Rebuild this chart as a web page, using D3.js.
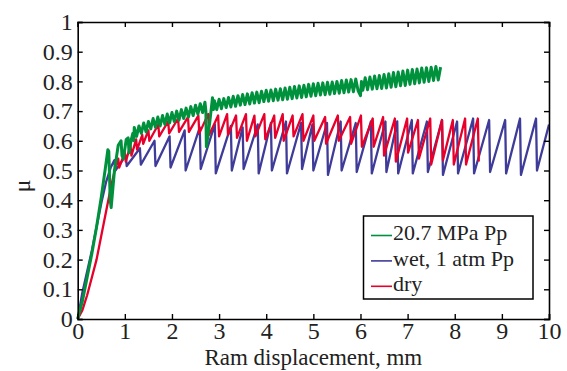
<!DOCTYPE html>
<html><head><meta charset="utf-8">
<script src="https://cdn.jsdelivr.net/npm/d3@7"></script>
<style>
body{margin:0;background:#fff;}
svg{display:block;}
text{font-family:"Liberation Serif","Times New Roman",serif;fill:#222;}
</style></head><body>
<svg id="c" width="567" height="371"></svg>
<script>
// ---- data ----
const seriesNames = ["20.7 MPa Pp", "wet, 1 atm Pp", "dry"];
const xTicks = [0,1,2,3,4,5,6,7,8,9,10];
const yTicks = [0,0.1,0.2,0.3,0.4,0.5,0.6,0.7,0.8,0.9,1];
const yTickLabels = ["0","0.1","0.2","0.3","0.4","0.5","0.6","0.7","0.8","0.9","1"];

// wet, 1 atm Pp : initial loading then stick-slip (peak, trough)
const wetStart = [[0,0],[0.1,0.09],[0.2,0.16],[0.3,0.23],[0.4,0.31],[0.5,0.39],[0.6,0.46],[0.7,0.51]];
const wetPeakX = [0.78,1.02,1.32,1.63,1.95,2.27,2.59,2.91,3.25,3.50,3.82,4.10,4.42,4.74,4.98,5.29,5.58,5.90,6.22,6.53,6.78,7.09,7.41,7.73,8.05,8.39,8.73,9.07,9.385,9.725];
const wetPeakY = [0.535,0.55,0.575,0.60,0.615,0.635,0.645,0.655,0.65,0.645,0.655,0.66,0.665,0.66,0.655,0.66,0.665,0.66,0.665,0.665,0.665,0.67,0.665,0.67,0.665,0.675,0.67,0.67,0.675,0.675];
const wetTroughX = [0.80,1.04,1.34,1.65,1.97,2.29,2.61,2.93,3.27,3.52,3.84,4.12,4.44,4.76,5.00,5.31,5.60,5.92,6.24,6.55,6.80,7.11,7.43,7.75,8.07,8.41,8.75,9.09,9.405,9.745];
const wetTroughY = [0.50,0.515,0.52,0.515,0.51,0.50,0.505,0.49,0.50,0.505,0.49,0.50,0.49,0.505,0.50,0.485,0.50,0.495,0.49,0.495,0.49,0.49,0.495,0.485,0.49,0.49,0.495,0.49,0.485,0.50];
const wetEnd = [[10,0.655]];

// dry
const dryStart = [[0,0],[0.1,0.03],[0.2,0.08],[0.3,0.14],[0.4,0.2],[0.5,0.28],[0.6,0.36],[0.7,0.44],[0.8,0.51],[0.86,0.54]];
const dryPeakX = [1.00,1.12,1.24,1.37,1.50,1.71,1.92,2.13,2.34,2.56,2.77,2.98,3.17,3.36,3.57,3.75,3.96,4.17,4.35,4.56,4.77,5.00,5.25,5.52,5.78,6.01,6.26,6.48,6.73,6.99,7.22,7.48,7.73,7.96,8.22,8.49];
const dryPeakY = [0.56,0.585,0.605,0.62,0.635,0.655,0.665,0.675,0.68,0.685,0.69,0.685,0.69,0.685,0.69,0.685,0.69,0.685,0.69,0.685,0.69,0.685,0.68,0.685,0.68,0.685,0.675,0.68,0.675,0.675,0.67,0.675,0.67,0.67,0.675,0.675];
const dryTroughY = [0.53,0.55,0.57,0.59,0.60,0.615,0.625,0.63,0.63,0.625,0.62,0.615,0.62,0.61,0.60,0.615,0.605,0.61,0.60,0.615,0.60,0.60,0.59,0.60,0.59,0.58,0.58,0.55,0.53,0.56,0.54,0.52,0.535,0.52,0.52,0.53];
const dryFirstTrough = [[0.88,0.51]];

// 20.7 MPa Pp
const greenPts = [[0,0],[0.1,0.06],[0.2,0.14],[0.3,0.22],[0.4,0.31],[0.5,0.41],[0.58,0.5],[0.64,0.57],[0.66,0.565],[0.69,0.40],[0.71,0.375],[0.78,0.50],[0.86,0.585],[0.92,0.60],[0.94,0.55],[0.97,0.54],[1.03,0.605],[1.07,0.61],[1.09,0.56],[1.13,0.60],[1.17,0.625],[1.19,0.60],
[1.20,0.645],[1.25,0.615],[1.30,0.65],[1.35,0.625],[1.40,0.66],[1.45,0.63],[1.50,0.665],[1.55,0.64],[1.60,0.675],[1.65,0.645],[1.70,0.68],[1.75,0.65],[1.80,0.685],[1.85,0.655],[1.90,0.69],[1.95,0.66],[2.00,0.695],[2.05,0.665],[2.10,0.70],[2.15,0.67],[2.20,0.705],[2.25,0.675],[2.30,0.71],[2.35,0.68],[2.40,0.715],[2.45,0.685],[2.50,0.72],[2.55,0.69],[2.60,0.725],[2.65,0.695],[2.70,0.73],[2.72,0.70],[2.73,0.58],[2.80,0.66],[2.86,0.745],[2.88,0.705],
[2.90,0.735],[2.95,0.705],[3.00,0.74],[3.05,0.708],[3.10,0.742],[3.15,0.712],[3.20,0.746],[3.25,0.714],[3.30,0.75],[3.35,0.716],[3.40,0.752],[3.45,0.72],[3.50,0.756],[3.55,0.722],[3.60,0.758],[3.65,0.724],[3.70,0.762],[3.75,0.727],[3.80,0.764],[3.85,0.728],[3.90,0.767],[3.95,0.732],[4.00,0.77],[4.05,0.733],[4.10,0.771],[4.15,0.735],[4.20,0.774],[4.25,0.737],[4.30,0.775],[4.35,0.738],[4.40,0.778],[4.45,0.74],[4.50,0.78],[4.55,0.742],[4.60,0.783],[4.65,0.744],[4.70,0.785],[4.75,0.746],[4.80,0.787],[4.85,0.748],[4.90,0.79],[4.95,0.75],
[5.00,0.792],[5.05,0.752],[5.10,0.794],[5.15,0.754],[5.20,0.795],[5.25,0.755],[5.30,0.797],[5.35,0.757],[5.40,0.798],[5.45,0.759],[5.50,0.80],[5.55,0.76],[5.60,0.803],[5.65,0.762],[5.70,0.805],[5.75,0.764],[5.80,0.806],[5.85,0.765],[5.90,0.808],[5.95,0.768],[6.00,0.752],[6.02,0.80],[6.05,0.77],[6.10,0.812],[6.15,0.772],[6.20,0.815],[6.25,0.774],[6.30,0.818],[6.35,0.775],[6.40,0.82],[6.45,0.776],[6.50,0.823],[6.55,0.778],[6.60,0.826],[6.65,0.78],[6.70,0.83],[6.75,0.782],[6.80,0.832],[6.85,0.785],[6.90,0.835],[6.95,0.786],
[7.00,0.838],[7.05,0.79],[7.10,0.84],[7.15,0.792],[7.20,0.842],[7.25,0.795],[7.30,0.845],[7.35,0.797],[7.40,0.846],[7.45,0.80],[7.50,0.848],[7.55,0.803],[7.60,0.85],[7.65,0.805],[7.70,0.848]];

const colors = ["#00913d","#3f3c99","#e6002b"];

// ---- build series ----
const wetPts = wetStart.slice();
wetPeakX.forEach((x,i)=>{ wetPts.push([x,wetPeakY[i]]); wetPts.push([wetTroughX[i],wetTroughY[i]]); });
wetEnd.forEach(p=>wetPts.push(p));

const dryPts = dryStart.slice();
dryFirstTrough.forEach(p=>dryPts.push(p));
dryPeakX.forEach((x,i)=>{ dryPts.push([x,dryPeakY[i]]); dryPts.push([x+0.02,dryTroughY[i]]); });

// ---- layout ----
const svg = d3.select("#c");
const L=77.7, R=549, T=22, B=319;
const x = d3.scaleLinear().domain([0,10]).range([L,R]);
const y = d3.scaleLinear().domain([0,1]).range([B,T]);
const line = d3.line().x(d=>x(d[0])).y(d=>y(d[1]));

const g = svg.append("g");
g.append("path").datum(wetPts).attr("d",line).attr("fill","none").attr("stroke",colors[1]).attr("stroke-width",2.3).attr("stroke-linejoin","round");
g.append("path").datum(dryPts).attr("d",line).attr("fill","none").attr("stroke",colors[2]).attr("stroke-width",2.3).attr("stroke-linejoin","round");
g.append("path").datum(greenPts).attr("d",line).attr("fill","none").attr("stroke",colors[0]).attr("stroke-width",3).attr("stroke-linejoin","round");

// axes with inward ticks on all sides
const fs = 24;
const axB = d3.axisBottom(x).tickValues(xTicks).tickSize(-5).tickPadding(3).tickFormat(d3.format("d"));
const axT = d3.axisTop(x).tickValues(xTicks).tickSize(-5).tickFormat("");
const axL = d3.axisLeft(y).tickValues(yTicks).tickSize(-5).tickPadding(5).tickFormat((d,i)=>yTickLabels[i]);
const axR = d3.axisRight(y).tickValues(yTicks).tickSize(-5).tickFormat("");
function style(sel){
  sel.select(".domain").attr("stroke","#000").attr("stroke-width",1.6);
  sel.selectAll(".tick line").attr("stroke","#000").attr("stroke-width",1.4);
  sel.selectAll(".tick text").attr("font-size",fs).attr("font-family","'Liberation Serif',serif").attr("fill","#222");
}
svg.append("g").attr("transform",`translate(0,${B})`).call(axB).call(style);
svg.append("g").attr("transform",`translate(0,${T})`).call(axT).call(style);
svg.append("g").attr("transform",`translate(${L},0)`).call(axL).call(style);
svg.append("g").attr("transform",`translate(${R},0)`).call(axR).call(style);

// axis labels
svg.append("text").attr("x",(L+R)/2).attr("y",365).attr("text-anchor","middle").attr("font-size",23).text("Ram displacement, mm");
svg.append("text").attr("transform","translate(30,186) rotate(-90)").attr("text-anchor","middle").attr("font-size",fs).text("μ");

// legend
const lg = svg.append("g");
lg.append("rect").attr("x",363.5).attr("y",216).attr("width",169.5).attr("height",83).attr("fill","#fff").attr("stroke","#000").attr("stroke-width",1.5);
seriesNames.forEach((n,i)=>{
  const yy = 232.5 + i*25.4;
  lg.append("line").attr("x1",371).attr("x2",392).attr("y1",yy+3).attr("y2",yy+3).attr("stroke",colors[i]).attr("stroke-width",1.6);
  lg.append("text").attr("x",393).attr("y",yy).attr("dy","0.35em").attr("font-size",22).text(n);
});
</script></body></html>
